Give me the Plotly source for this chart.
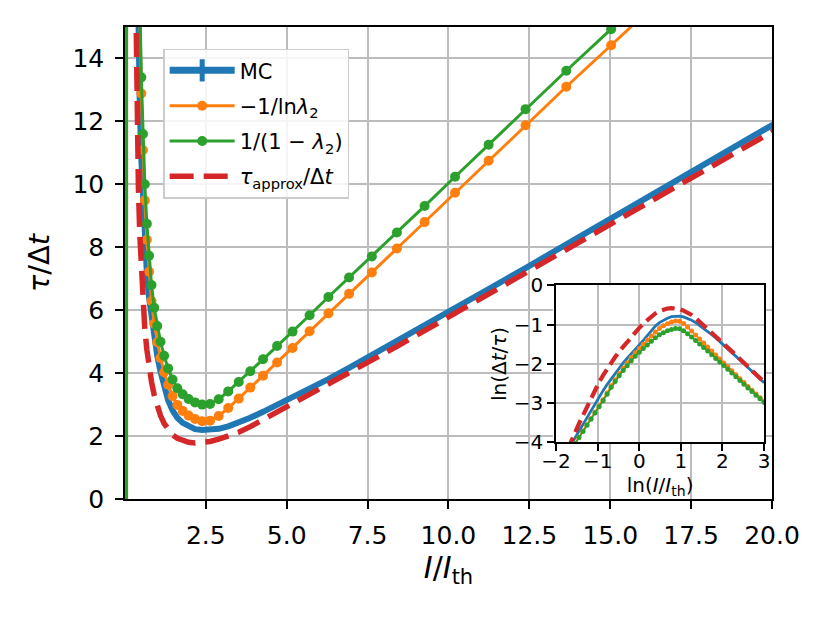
import plotly.graph_objects as go

# ---------------- data ----------------
# I/I_th sample points (log-spaced)
X = [0.0498, 0.0549, 0.0604, 0.0666, 0.0733, 0.0808, 0.0890, 0.0980, 0.1080, 0.1190,
     0.1311, 0.1444, 0.1590, 0.1752, 0.1930, 0.2126, 0.2342, 0.2580, 0.2842, 0.3131,
     0.3449, 0.3800, 0.4186, 0.4611, 0.5080, 0.5595, 0.6164, 0.6790, 0.7480, 0.8240,
     0.9077, 1.0000, 1.1016, 1.2136, 1.3369, 1.4727, 1.6224, 1.7873, 1.9689, 2.1690,
     2.3894, 2.6322, 2.8997, 3.1944, 3.5190, 3.8766, 4.2706, 4.7046, 5.1826, 5.7093,
     6.2895, 6.9287, 7.6328, 8.4084, 9.2629, 10.2042, 11.2412, 12.3836, 13.6420, 15.0283,
     16.5555, 18.2380, 20.0855]

# MC  (tau / dt)
MC = [655, 550, 462, 388, 326, 274, 230, 193, 162, 136,
      114, 96, 81, 68, 57, 48, 40.5, 34, 28.5, 24,
      20.3, 17.2, 14.6, 12.5, 10.8, 9.4, 8.2, 7.2, 6.4, 5.75,
      5.1, 4.55, 4.05, 3.58, 3.14, 2.82, 2.58, 2.42, 2.31, 2.22,
      2.19, 2.19, 2.23, 2.31, 2.43, 2.58, 2.77, 2.99, 3.23, 3.50,
      3.81, 4.17, 4.57, 5.02, 5.51, 6.06, 6.67, 7.34, 8.09, 8.92,
      9.82, 10.82, 11.93]

# -1/ln(lambda_2)
NEG_INV_LN = [-600.5, 529.5, 449.5, 382.5, 325.5, 277.5, 236.5, 201.5, 171.5, 146.5,
              124.5, 106.5, 90.5, 77.0, 65.5, 56.0, 47.8, 40.8, 34.8, 29.7,
              25.3, 21.5, 18.4, 15.49, 12.89, 11.09, 9.49, 8.24, 7.22, 6.29,
              5.57, 4.98, 4.48, 4.03, 3.63, 3.27, 2.99, 2.80, 2.65, 2.54,
              2.47, 2.49, 2.64, 2.89, 3.19, 3.54, 3.92, 4.34, 4.80, 5.33,
              5.90, 6.52, 7.20, 7.96, 8.80, 9.73, 10.75, 11.88, 13.10, 14.42,
              15.88, 17.48, 19.24]

# 1/(1 - lambda_2)
INV_ONE_MINUS = [-600, 530, 450, 383, 326, 278, 237, 202, 172, 147,
                 125, 107, 91.0, 77.5, 66.0, 56.5, 48.3, 41.3, 35.3, 30.2,
                 25.8, 22.0, 18.9, 16.0, 13.4, 11.6, 10.0, 8.75, 7.73, 6.80,
                 6.08, 5.50, 5.00, 4.55, 4.15, 3.80, 3.52, 3.33, 3.18, 3.07,
                 3.00, 3.02, 3.17, 3.42, 3.72, 4.06, 4.44, 4.86, 5.32, 5.84,
                 6.42, 7.04, 7.71, 8.47, 9.31, 10.24, 11.26, 12.39, 13.61, 14.93,
                 16.39, 17.99, 19.75]

# tau_approx / dt
APPROX = [1460, 1150, 905, 712, 560, 440, 346, 272, 214, 168,
          132, 104, 82, 65, 52, 42, 34, 27.5, 22, 17.8,
          14.4, 11.8, 9.9, 8.4, 7.2, 6.2, 5.4, 4.75, 4.2, 3.72,
          3.3, 2.95, 2.65, 2.40, 2.20, 2.04, 1.93, 1.85, 1.80, 1.78,
          1.79, 1.83, 1.90, 2.00, 2.12, 2.30, 2.52, 2.76, 3.02, 3.30,
          3.62, 3.99, 4.40, 4.85, 5.35, 5.90, 6.51, 7.18, 7.92, 8.74,
          9.63, 10.62, 11.72]

MAIN_XTICKS = [2.5, 5.0, 7.5, 10.0, 12.5, 15.0, 17.5, 20.0]
MAIN_XTICKTEXT = ["2.5", "5.0", "7.5", "10.0", "12.5", "15.0", "17.5", "20.0"]
MAIN_YTICKS = [0, 2, 4, 6, 8, 10, 12, 14]

# inset: ln(I/I_th) ticks -> positions in I/I_th ; ln(dt/tau) ticks -> positions in tau/dt
INSET_XTICKS = [0.135335, 0.367879, 1.0, 2.718282, 7.389056, 20.085537]
INSET_XTICKTEXT = ["\u22122", "\u22121", "0", "1", "2", "3"]
INSET_YTICKS = [1.0, 2.718282, 7.389056, 20.085537, 54.59815]
INSET_YTICKTEXT = ["0", "\u22121", "\u22122", "\u22123", "\u22124"]

# ---------------- styling ----------------
BLUE, ORANGE, GREEN, RED = "#1f77b4", "#ff7f0e", "#2ca02c", "#d62728"
FONT = "DejaVu Sans"
GRID = "#bcbcbc"

MAIN_XRANGE = [0.004, 20.0]
MAIN_YRANGE = [0.0, 15.0]
INSET_XDOM = [0.6663, 0.9877]
INSET_YDOM = [0.1199, 0.4525]

fig = go.Figure()

# main panel
fig.add_trace(go.Scatter(x=X, y=MC, mode="lines", line=dict(color=BLUE, width=6),
                         showlegend=False, xaxis="x", yaxis="y"))
fig.add_trace(go.Scatter(x=[None], y=[None], mode="lines+markers", name="MC",
                         legendgroup="a",
                         line=dict(color=BLUE, width=7),
                         marker=dict(symbol="line-ns", size=19,
                                     line=dict(color=BLUE, width=5)),
                         xaxis="x", yaxis="y"))
fig.add_trace(go.Scatter(x=X, y=NEG_INV_LN, mode="lines+markers",
                         name="\u22121/ln<i>\u03bb</i><sub>2</sub>", legendgroup="b",
                         line=dict(color=ORANGE, width=3),
                         marker=dict(color=ORANGE, size=10),
                         xaxis="x", yaxis="y"))
fig.add_trace(go.Scatter(x=X, y=INV_ONE_MINUS, mode="lines+markers",
                         name="1/(1 \u2212 <i>\u03bb</i><sub>2</sub>)", legendgroup="c",
                         line=dict(color=GREEN, width=3),
                         marker=dict(color=GREEN, size=10),
                         xaxis="x", yaxis="y"))
fig.add_trace(go.Scatter(x=X, y=APPROX, mode="lines",
                         name="<i>\u03c4</i><sub>approx</sub>/\u0394<i>t</i>", legendgroup="d",
                         line=dict(color=RED, width=5.5, dash="24px,10px"),
                         xaxis="x", yaxis="y"))

# inset panel (log axes labelled in natural-log units)
fig.add_trace(go.Scatter(x=X, y=MC, mode="lines", line=dict(color=BLUE, width=2.8),
                         showlegend=False, xaxis="x2", yaxis="y2"))
fig.add_trace(go.Scatter(x=X, y=NEG_INV_LN, mode="lines+markers",
                         line=dict(color=ORANGE, width=1.6),
                         marker=dict(color=ORANGE, size=5),
                         showlegend=False, xaxis="x2", yaxis="y2"))
fig.add_trace(go.Scatter(x=X, y=INV_ONE_MINUS, mode="lines+markers",
                         line=dict(color=GREEN, width=1.6),
                         marker=dict(color=GREEN, size=5),
                         showlegend=False, xaxis="x2", yaxis="y2"))
fig.add_trace(go.Scatter(x=X, y=APPROX, mode="lines",
                         line=dict(color=RED, width=4.2, dash="13px,6px"),
                         showlegend=False, xaxis="x2", yaxis="y2"))

axis_common = dict(showline=True, mirror=True, linecolor="black", linewidth=1.6,
                   ticks="outside", tickcolor="black", tickwidth=1.6,
                   showgrid=True, gridcolor=GRID, gridwidth=1.5, zeroline=False)

# the page body has an 8 px margin: shift the plot area so it lands where the reference has it
fig.update_layout(
    width=830, height=623,
    margin=dict(l=116.7, r=66, t=19.3, b=131.7, autoexpand=False),
    paper_bgcolor="white", plot_bgcolor="white",
    font=dict(family=FONT, color="black"),
    xaxis=dict(domain=[0, 1], range=MAIN_XRANGE, tickmode="array",
               tickvals=MAIN_XTICKS, ticktext=MAIN_XTICKTEXT, ticklen=8,
               ticklabelstandoff=5, tickfont=dict(size=25),
               title=dict(text="<i>I</i>/<i>I</i><sub>th</sub>", font=dict(size=30),
                          standoff=4),
               **axis_common),
    yaxis=dict(domain=[0, 1], range=MAIN_YRANGE, tickmode="array",
               tickvals=MAIN_YTICKS, ticklen=8, ticklabelstandoff=6,
               tickfont=dict(size=25),
               title=dict(text="<i>\u03c4</i>/\u0394<i>t</i>", font=dict(size=29),
                          standoff=14),
               **axis_common),
    xaxis2=dict(domain=INSET_XDOM, anchor="y2", type="log",
                range=[-0.868589, 1.302883], tickmode="array",
                tickvals=INSET_XTICKS, ticktext=INSET_XTICKTEXT, ticklen=7,
                ticklabelstandoff=-7, tickfont=dict(size=20),
                title=dict(text="ln(<i>I</i>/<i>I</i><sub>th</sub>)", font=dict(size=20),
                           standoff=0),
                **axis_common),
    yaxis2=dict(domain=INSET_YDOM, anchor="x2", type="log",
                range=[1.737178, 0.0], tickmode="array",
                tickvals=INSET_YTICKS, ticktext=INSET_YTICKTEXT, ticklen=7,
                ticklabelstandoff=0, tickfont=dict(size=20),
                title=dict(text="ln(\u0394<i>t</i>/<i>\u03c4</i>)", font=dict(size=20),
                           standoff=2),
                **axis_common),
    legend=dict(x=0.059, y=0.954, xanchor="left", yanchor="top",
                bgcolor="rgba(255,255,255,0.85)", bordercolor="#cccccc", borderwidth=1.5,
                font=dict(size=21, family=FONT), tracegroupgap=5, itemwidth=65),
    showlegend=True,
)

# white background behind the inset (hides the main grid there)
xr, yr = MAIN_XRANGE, MAIN_YRANGE
fig.add_shape(type="rect", xref="x", yref="y", layer="between",
              x0=xr[0] + INSET_XDOM[0] * (xr[1] - xr[0]) - 0.1,
              x1=xr[0] + INSET_XDOM[1] * (xr[1] - xr[0]),
              y0=yr[0] + INSET_YDOM[0] * (yr[1] - yr[0]) - 0.05,
              y1=yr[0] + INSET_YDOM[1] * (yr[1] - yr[0]),
              fillcolor="white", line=dict(width=0))

fig.write_html("out.html")
